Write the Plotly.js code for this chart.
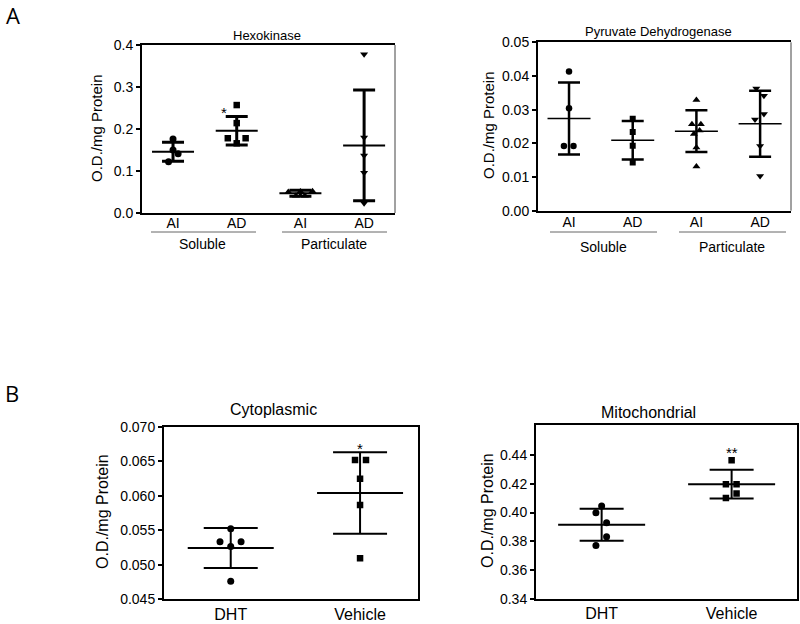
<!DOCTYPE html>
<html>
<head>
<meta charset="utf-8">
<script src="https://cdn.plot.ly/plotly-3.0.1.min.js"></script>
<style>html,body{margin:0;padding:0;background:#fff}#chart{width:800px;height:624px}</style>
</head>
<body>
<div id="chart"></div>
<script>
// ---------- DATA ----------
const hexCategories = ['AI', 'AD', 'AI', 'AD'];
const hexSolAI  = [0.176, 0.150, 0.141, 0.122];
const hexSolAD  = [0.257, 0.214, 0.178, 0.178, 0.166];
const hexPartAI = [0.050, 0.051, 0.052, 0.041, 0.041];
const hexPartAD = [0.378, 0.180, 0.137, 0.096, 0.023];
const hexMean   = [0.146, 0.196, 0.047, 0.161];
const hexSD     = [0.0225, 0.034, 0.007, 0.132];

const pdhCategories = ['AI', 'AD', 'AI', 'AD'];
const pdhSolAI  = [0.0413, 0.0304, 0.0192, 0.0192];
const pdhSolAD  = [0.0273, 0.0234, 0.0193, 0.0143];
const pdhPartAI = [0.0329, 0.0257, 0.0257, 0.0238, 0.0228, 0.0188, 0.0131];
const pdhPartAD = [0.0363, 0.0341, 0.0287, 0.0271, 0.0192, 0.0103];
const pdhMean   = [0.0274, 0.0209, 0.0236, 0.0258];
const pdhSD     = [0.0107, 0.0057, 0.0062, 0.0098];

const bCategories = ['DHT', 'Vehicle'];
const cytoDHT = [0.05523, 0.05335, 0.05335, 0.05263, 0.04761];
const cytoVeh = [0.06517, 0.06517, 0.06246, 0.05865, 0.05093];
const cytoMean = [0.05243, 0.06039];
const cytoSD   = [0.0029, 0.0059];

const mitoDHT = [0.4045, 0.3999, 0.3929, 0.3832, 0.3771];
const mitoVeh = [0.4365, 0.4198, 0.4198, 0.4133, 0.4101];
const mitoMean = [0.3915, 0.4198];
const mitoSD   = [0.0111, 0.0100];

const groupLabels = ['Soluble', 'Particulate'];

// ---------- LAYOUT HELPERS (positions / styles) ----------
const W = 800, H = 624;
const px = (a, b) => [a / W, b / W];
const py = (top, bot) => [1 - bot / H, 1 - top / H];
const catPos4 = [1, 2, 3, 4];
const catPos2 = [1, 2];
// horizontal scatter of the dots within a column (in category units)
const hexJit = [[0, 0, 0.08, -0.07], [0, 0, -0.14, 0.14, 0], [-0.19, 0, 0.19, -0.07, 0.07], [0, 0, 0, 0, 0]];
const pdhJit = [[0, 0, -0.08, 0.07], [0, 0, 0, 0], [0, -0.07, 0.07, 0.05, -0.04, 0, 0], [-0.06, 0.06, 0.06, -0.08, 0, 0]];
const cytoJit = [[0, -0.083, 0.08, 0, 0], [-0.039, 0.046, 0, 0, 0]];
const mitoJit = [[0, -0.044, 0.038, 0.038, -0.044], [0, -0.044, 0.038, 0.038, -0.044]];

const FONT = 'Liberation Sans, Arial, sans-serif';
const traces = [];

function addGroup(xa, ya, pos, vals, jit, symbol, msize) {
  traces.push({
    type: 'scatter', mode: 'markers', xaxis: xa, yaxis: ya,
    x: vals.map((v, i) => pos + jit[i]), y: vals,
    marker: {symbol: symbol, size: msize, color: '#000', line: {width: 0}},
    hoverinfo: 'y', showlegend: false
  });
}
// line-ew symbol spans 1.4 x marker size, so size = length / 1.4
function addMeans(xa, ya, positions, means, sds, meanLen, meanW, capW, errW) {
  traces.push({
    type: 'scatter', mode: 'markers', xaxis: xa, yaxis: ya,
    x: positions, y: means,
    marker: {symbol: 'line-ew-open', size: meanLen / 1.4, color: '#000', line: {width: meanW, color: '#000'}},
    error_y: {type: 'data', array: sds, visible: true, color: '#000', thickness: errW, width: capW},
    hoverinfo: 'y', showlegend: false
  });
}

// Hexokinase
addMeans('x', 'y', catPos4, hexMean, hexSD, 42, 2, 11, 3);
addGroup('x', 'y', 1, hexSolAI, hexJit[0], 'circle', 7);
addGroup('x', 'y', 2, hexSolAD, hexJit[1], 'square', 6.5);
addGroup('x', 'y', 3, hexPartAI, hexJit[2], 'triangle-up', 7);
addGroup('x', 'y', 4, hexPartAD, hexJit[3], 'triangle-down', 7);
// Pyruvate dehydrogenase
addMeans('x2', 'y2', catPos4, pdhMean, pdhSD, 43, 1.5, 11, 2.5);
addGroup('x2', 'y2', 1, pdhSolAI, pdhJit[0], 'circle', 6.5);
addGroup('x2', 'y2', 2, pdhSolAD, pdhJit[1], 'square', 6);
addGroup('x2', 'y2', 3, pdhPartAI, pdhJit[2], 'triangle-up', 7);
addGroup('x2', 'y2', 4, pdhPartAD, pdhJit[3], 'triangle-down', 7);
// Cytoplasmic
addMeans('x3', 'y3', catPos2, cytoMean, cytoSD, 86, 2, 27, 2);
addGroup('x3', 'y3', 1, cytoDHT, cytoJit[0], 'circle', 7);
addGroup('x3', 'y3', 2, cytoVeh, cytoJit[1], 'square', 6.5);
// Mitochondrial
addMeans('x4', 'y4', catPos2, mitoMean, mitoSD, 87, 2, 22, 2);
addGroup('x4', 'y4', 1, mitoDHT, mitoJit[0], 'circle', 7);
addGroup('x4', 'y4', 2, mitoVeh, mitoJit[1], 'square', 6.5);

function xAx(dom, rng, anchor, labels, vals, fs, mirror, standoff) {
  return {domain: dom, range: rng, anchor: anchor, showgrid: false, zeroline: false,
    showline: true, linecolor: '#000', linewidth: 2, mirror: mirror,
    tickmode: 'array', tickvals: vals, ticktext: labels, ticks: '', ticklabelstandoff: standoff,
    tickfont: {family: FONT, size: fs, color: '#000'}, fixedrange: true};
}
function yAx(dom, rng, anchor, tvals, fmt, mirror) {
  return {domain: dom, range: rng, anchor: anchor, showgrid: false, zeroline: false,
    showline: true, linecolor: '#000', linewidth: 2, mirror: mirror,
    tickmode: 'array', tickvals: tvals, ticktext: tvals.map(v => v.toFixed(fmt)),
    ticks: 'outside', ticklen: 4, tickwidth: 2, tickcolor: '#000',
    tickfont: {family: FONT, size: 14, color: '#000'}, fixedrange: true};
}

const ann = [];
function txt(x, y, t, size, extra) {
  ann.push(Object.assign({xref: 'paper', yref: 'paper', x: x / W, y: 1 - y / H, text: t, showarrow: false,
    xanchor: 'center', yanchor: 'middle', font: {family: FONT, size: size, color: '#000'}}, extra || {}));
}
txt(13, 15, 'A', 22, {font: {family: 'Open Sans, sans-serif', size: 22, color: '#000'}});
txt(12, 393, 'B', 22, {font: {family: 'Open Sans, sans-serif', size: 22, color: '#000'}});
txt(267, 35, 'Hexokinase', 13);
txt(658, 31, 'Pyruvate Dehydrogenase', 13);
txt(273, 409, 'Cytoplasmic', 16);
txt(648, 412, 'Mitochondrial', 16);
txt(97, 128, 'O.D./mg Protein', 15, {textangle: -90});
txt(489, 125, 'O.D./mg Protein', 15, {textangle: -90});
txt(102, 512, 'O.D./mg Protein', 16, {textangle: -90});
txt(487, 511, 'O.D./mg Protein', 16, {textangle: -90});
txt(203, 244, groupLabels[0], 14);
txt(334, 244, groupLabels[1], 14);
txt(603, 247, groupLabels[0], 14);
txt(732, 247, groupLabels[1], 14);
// significance marks
ann.push({xref: 'x', yref: 'y', x: 1.8, y: hexMean[1] + hexSD[1], text: '*', showarrow: false, yshift: 4, font: {family: FONT, size: 15, color: '#000'}});
ann.push({xref: 'x3', yref: 'y3', x: 2, y: cytoMean[1] + cytoSD[1], text: '*', showarrow: false, yshift: 4, font: {family: FONT, size: 15, color: '#000'}});
ann.push({xref: 'x4', yref: 'y4', x: 2, y: mitoVeh[0], text: '**', showarrow: false, yshift: 8, font: {family: FONT, size: 15, color: '#000'}});

const gy = 1 - 232 / H;
const shapes = [
  {type: 'line', xref: 'paper', yref: 'paper', x0: 151 / W, x1: 256 / W, y0: gy, y1: gy, line: {color: '#666', width: 1}},
  {type: 'line', xref: 'paper', yref: 'paper', x0: 282 / W, x1: 387 / W, y0: gy, y1: gy, line: {color: '#666', width: 1}},
  {type: 'line', xref: 'paper', yref: 'paper', x0: 550 / W, x1: 657 / W, y0: gy, y1: gy, line: {color: '#666', width: 1}},
  {type: 'line', xref: 'paper', yref: 'paper', x0: 679 / W, x1: 786 / W, y0: gy, y1: gy, line: {color: '#666', width: 1}},
  {type: 'line', xref: 'x domain', yref: 'y domain', x0: 1, x1: 1, y0: 0, y1: 1, line: {color: '#444', width: 1}},
  {type: 'line', xref: 'x2 domain', yref: 'y2 domain', x0: 1, x1: 1, y0: 0, y1: 1, line: {color: '#444', width: 1}}
];

const layout = {
  width: W, height: H, margin: {l: 0, r: 0, t: 0, b: 0},
  paper_bgcolor: '#fff', plot_bgcolor: 'rgba(0,0,0,0)', showlegend: false,
  font: {family: FONT, color: '#000'},
  xaxis:  xAx(px(142, 395), [0.513, 4.485], 'y', hexCategories, catPos4, 14, true, -4),
  yaxis:  yAx(py(45, 213), [0, 0.4], 'x', [0, 0.1, 0.2, 0.3, 0.4], 1, false),
  xaxis2: xAx(px(538, 791), [0.513, 4.485], 'y2', pdhCategories, catPos4, 14, true, -3),
  yaxis2: yAx(py(42.3, 210.7), [0, 0.05], 'x2', [0, 0.01, 0.02, 0.03, 0.04, 0.05], 2, false),
  xaxis3: xAx(px(164, 418), [0.484, 2.448], 'y3', bCategories, catPos2, 16, true, -1),
  yaxis3: yAx(py(426.7, 599.3), [0.045, 0.070], 'x3', [0.045, 0.050, 0.055, 0.060, 0.065, 0.070], 3, true),
  xaxis4: xAx(px(536, 797), [0.495, 2.503], 'y4', bCategories, catPos2, 16, true, -1),
  yaxis4: yAx(py(425, 598.7), [0.34, 0.461], 'x4', [0.34, 0.36, 0.38, 0.40, 0.42, 0.44], 2, true),
  annotations: ann, shapes: shapes
};

Plotly.newPlot('chart', traces, layout, {displayModeBar: false, staticPlot: true});
</script>
</body>
</html>
